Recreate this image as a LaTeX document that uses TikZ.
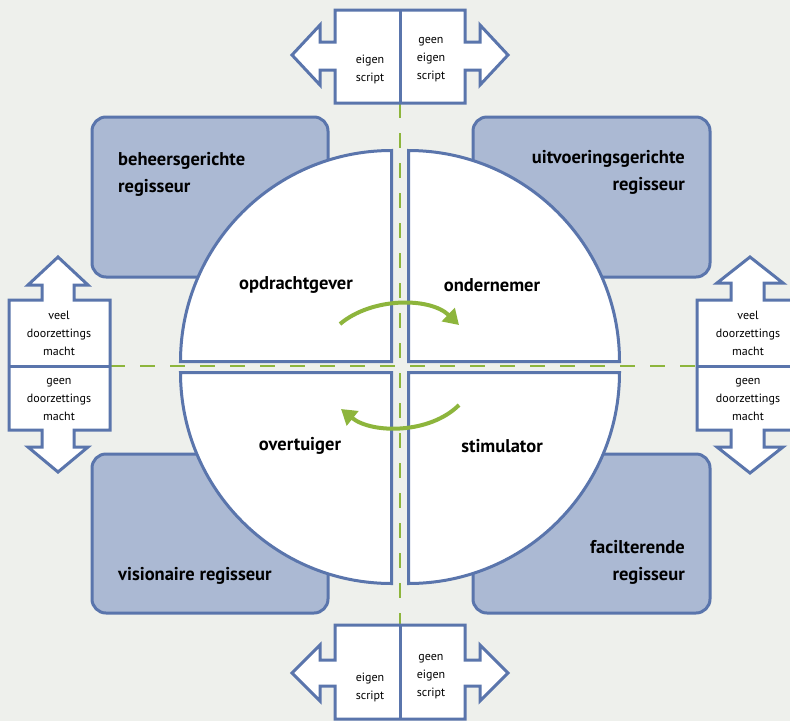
\documentclass[tikz,border=0pt]{standalone}
\usepackage{fontspec}
\setmainfont{PT Sans}
\usetikzlibrary{arrows.meta}
\definecolor{bg}{HTML}{EEF0EC}
\definecolor{bl}{HTML}{5A75AC}
\definecolor{boxfill}{HTML}{ABB9D3}
\definecolor{gr}{HTML}{8DB53C}
\tikzset{
  regbox/.style={draw=bl, fill=boxfill, line width=3pt, rounded corners=14pt},
  quad/.style={draw=bl, fill=white, line width=3pt, line join=miter},
  bigarrow/.style={draw=bl, fill=white, line width=3pt, line join=miter},
  divider/.style={draw=bl, line width=3pt},
  guide/.style={draw=gr, line width=2pt, dash pattern=on 15pt off 15pt},
  turn/.style={draw=gr, line width=4pt, -{Triangle[length=15pt,width=18pt]}},
  qlabel/.style={font=\bfseries\fontsize{18.5}{20}\selectfont, inner sep=0pt},
  rlabel/.style={font=\bfseries\fontsize{18.5}{27}\selectfont, inner sep=0pt},
  slabel/.style={font=\fontsize{12}{18}\selectfont, align=center, inner sep=0pt}
}
\begin{document}
\begin{tikzpicture}[x=1pt,y=-1pt]
\fill[bg] (0,0) rectangle (790,721);
\useasboundingbox (0,0) rectangle (790,721);

% guide lines
\coordinate (hl) at (110,366);
\coordinate (hr) at (697,366);
\coordinate (vt) at (400,103);
\coordinate (vb) at (400,625);
\draw[guide] (hl) -- (hr);
\draw[guide] (vt) -- (vb);

% regisseur boxes
\draw[regbox] (92,117) rectangle (328,277);
\draw[regbox] (473,117) rectangle (710,277);
\draw[regbox] (92,454) rectangle (328,613);
\draw[regbox] (473,454) rectangle (710,613);

% circle quarters
\draw[quad] (391.5,361.5) -- (180.5,361.5) arc[start angle=180, end angle=270, radius=211] -- cycle;
\draw[quad] (408.5,361.5) -- (619.5,361.5) arc[start angle=0, end angle=-90, radius=211] -- cycle;
\draw[quad] (391.5,372.5) -- (180.5,372.5) arc[start angle=180, end angle=90, radius=211] -- cycle;
\draw[quad] (408.5,372.5) -- (619.5,372.5) arc[start angle=0, end angle=90, radius=211] -- cycle;

% guide lines again, visible in the gaps
\draw[guide] (hl) -- (hr);
\draw[guide] (vt) -- (vb);

% top double arrow
\draw[bigarrow] (335,10) -- (465,10) -- (465,42) -- (480,42) -- (480,25) -- (508,55) -- (480,85) -- (480,70) -- (465,70) -- (465,103) -- (335,103) -- (335,70) -- (320,70) -- (320,85) -- (292,55) -- (320,25) -- (320,42) -- (335,42) -- cycle;
\draw[divider] (400,10) -- (400,103);
% bottom double arrow
\draw[bigarrow] (335,625) -- (465,625) -- (465,660) -- (480,660) -- (480,645) -- (508,673) -- (480,701) -- (480,686) -- (465,686) -- (465,719) -- (335,719) -- (335,686) -- (320,686) -- (320,701) -- (292,673) -- (320,645) -- (320,660) -- (335,660) -- cycle;
\draw[divider] (400,625) -- (400,719);
% left double arrow
\draw[bigarrow] (9,300) -- (9,430) -- (42,430) -- (42,447) -- (28,447) -- (58,472) -- (88,447) -- (74,447) -- (74,430) -- (110,430) -- (110,300) -- (74,300) -- (74,285) -- (88,285) -- (58,257) -- (28,285) -- (42,285) -- (42,300) -- cycle;
\draw[divider] (9,366) -- (110,366);
% right double arrow
\draw[bigarrow] (697,300) -- (697,430) -- (731,430) -- (731,447) -- (717,447) -- (750,473) -- (783,447) -- (764,447) -- (764,430) -- (800,430) -- (800,300) -- (764,300) -- (764,283) -- (783,283) -- (750,257) -- (717,283) -- (731,283) -- (731,300) -- cycle;
\draw[divider] (697,366) -- (800,366);

% rotation arrows
\coordinate (t1) at (340,324);
\coordinate (t2) at (459,325);
\coordinate (b1) at (459,405);
\coordinate (b2) at (341,409);
\draw[turn] (t1) .. controls (372,297) and (430,297) .. (t2);
\draw[turn] (b1) .. controls (430,434) and (372,434) .. (b2);

% quarter labels
\node[qlabel] (opdr) at (296,285) {opdrachtgever};
\node[qlabel] (onder) at (492,285) {ondernemer};
\node[qlabel] (over) at (300,446) {overtuiger};
\node[qlabel] (stim) at (502,446) {stimulator};

% regisseur labels
\node[rlabel, anchor=west, align=left] (beh) at (118,174) {beheersgerichte\\regisseur};
\node[rlabel, anchor=east, align=right] (uitv) at (685,172) {uitvoeringsgerichte\\regisseur};
\node[rlabel, anchor=west] (vis) at (118,576) {visionaire regisseur};
\node[rlabel, anchor=east, align=right] (fac) at (685,562) {facilterende\\regisseur};

% small labels
\node[slabel] (te) at (370,69) {eigen\\script};
\node[slabel] (tg) at (431,60) {geen\\eigen\\script};
\node[slabel] (be) at (370,687) {eigen\\script};
\node[slabel] (bg2) at (431,677) {geen\\eigen\\script};
\node[slabel] (lv) at (59,333) {veel\\doorzettings\\macht};
\node[slabel] (lg) at (59,399) {geen\\doorzettings\\macht};
\node[slabel] (rv) at (748,333) {veel\\doorzettings\\macht};
\node[slabel] (rg) at (748,399) {geen\\doorzettings\\macht};
\end{tikzpicture}
\end{document}
